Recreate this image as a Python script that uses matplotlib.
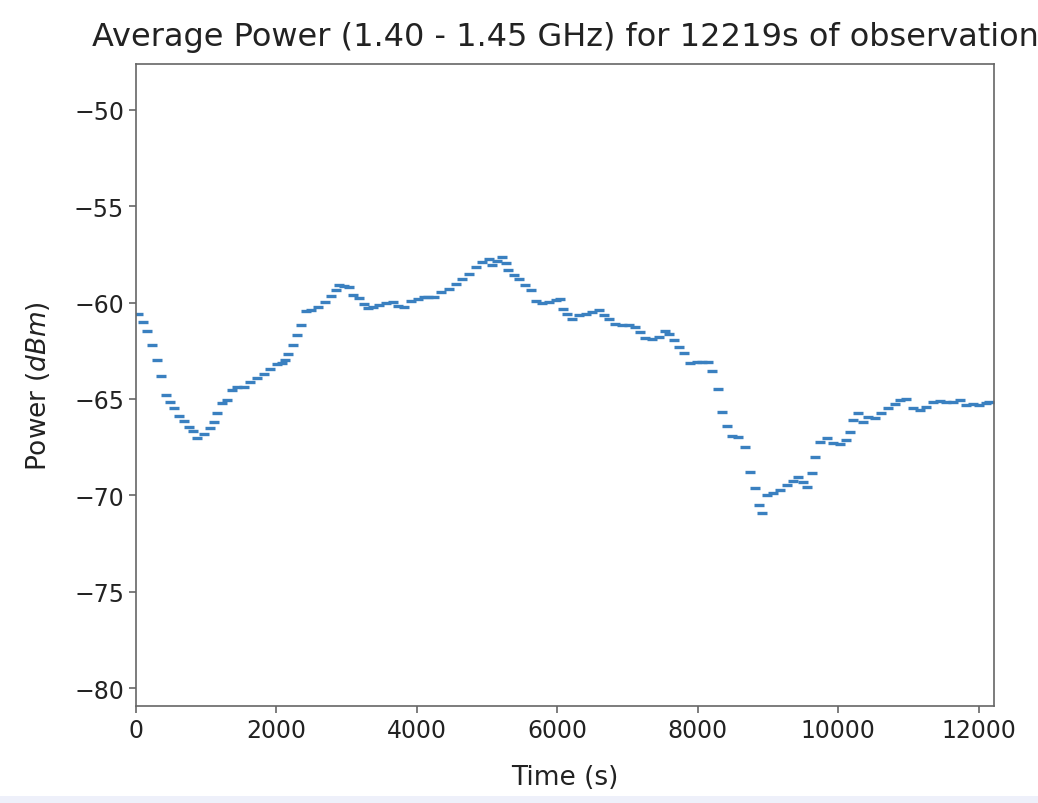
import matplotlib
matplotlib.use("Agg")
import matplotlib.pyplot as plt
from matplotlib.patches import Rectangle

# values (time in s, power in dBm)
time_s = [
    28, 104, 161, 232, 294, 360, 431, 483, 540, 611, 682, 753, 814, 871,
    966, 1051, 1108, 1155, 1226, 1297, 1368, 1439, 1534, 1629, 1723, 1818,
    1913, 2007, 2078, 2116, 2164, 2235, 2292, 2353, 2415, 2496, 2590, 2685,
    2780, 2851, 2898, 2969, 3040, 3097, 3182, 3253, 3300, 3371, 3466, 3561,
    3655, 3726, 3821, 3916, 4010, 4105, 4152, 4247, 4342, 4460, 4555, 4649,
    4744, 4839, 4933, 5028, 5075, 5146, 5217, 5274, 5303, 5384, 5455, 5540,
    5620, 5691, 5786, 5881, 5975, 6033, 6080, 6140, 6212, 6307, 6402, 6496,
    6591, 6662, 6733, 6828, 6923, 7017, 7112, 7183, 7254, 7348, 7443, 7528,
    7585, 7656, 7727, 7798, 7893, 7987, 8058, 8153, 8210, 8286, 8343, 8413,
    8484, 8580, 8674, 8745, 8816, 8873, 8920, 8982, 9077, 9172, 9266, 9361,
    9432, 9503, 9550, 9621, 9669, 9740, 9834, 9929, 10024, 10118, 10166,
    10213, 10284, 10355, 10426, 10521, 10615, 10710, 10805, 10876, 10970,
    11065, 11160, 11255, 11349, 11444, 11538, 11633, 11728, 11822, 11917,
    12012, 12107, 12155,
]
power_dbm = [
    -60.57, -61.0, -61.47, -62.18, -63.0, -63.82, -64.77, -65.15, -65.46,
    -65.89, -66.15, -66.44, -66.67, -67.05, -66.84, -66.53, -66.18, -65.75,
    -65.23, -65.06, -64.54, -64.37, -64.37, -64.11, -63.9, -63.68, -63.42,
    -63.21, -63.11, -62.99, -62.69, -62.21, -61.69, -61.14, -60.45, -60.4,
    -60.23, -59.96, -59.67, -59.36, -59.07, -59.14, -59.19, -59.62, -59.76,
    -60.05, -60.27, -60.22, -60.1, -60.0, -59.96, -60.17, -60.22, -59.93,
    -59.83, -59.71, -59.71, -59.71, -59.45, -59.27, -59.02, -58.79, -58.5,
    -58.15, -57.89, -57.76, -58.07, -57.86, -57.63, -57.93, -58.33, -58.55,
    -58.79, -59.1, -59.36, -59.93, -60.0, -59.96, -59.88, -59.79, -60.31,
    -60.57, -60.83, -60.66, -60.57, -60.48, -60.4, -60.66, -60.83, -61.09,
    -61.18, -61.18, -61.26, -61.52, -61.83, -61.87, -61.78, -61.49, -61.61,
    -61.95, -62.3, -62.64, -63.16, -63.07, -63.07, -63.07, -63.56, -64.46,
    -65.67, -66.39, -66.93, -66.96, -67.48, -68.77, -69.64, -70.5, -70.93,
    -69.98, -69.9, -69.72, -69.47, -69.26, -69.03, -69.29, -69.55, -68.86,
    -68.0, -67.22, -67.05, -67.31, -67.36, -67.13, -66.7, -66.1, -65.75,
    -66.18, -65.92, -66.01, -65.75, -65.46, -65.28, -65.06, -65.01, -65.49,
    -65.58, -65.41, -65.18, -65.11, -65.15, -65.18, -65.06, -65.32, -65.28,
    -65.32, -65.23, -65.18,
]
duration_s = 12219

fig = plt.figure(figsize=(10.38, 8.04), dpi=100)
ax = fig.add_axes([0.131, 0.1206, 0.8266, 0.7984])

ax.plot(time_s, power_dbm, linestyle="none", marker="_", markersize=7,
        markeredgewidth=2.4, color="#3a80c0")

ax.set_xlim(0, duration_s)
ax.set_ylim(min(power_dbm) - 10, max(power_dbm) + 10)
ax.set_xticks([0, 2000, 4000, 6000, 8000, 10000, 12000])
ax.set_yticks([-80, -75, -70, -65, -60, -55, -50])

for sp in ax.spines.values():
    sp.set_color("#666666")
    sp.set_linewidth(1.2)
ax.tick_params(labelsize=17, colors="#666666", labelcolor="#222222",
               length=5, width=1.2)

ax.set_title("Average Power (1.40 - 1.45 GHz) for %ds of observation" % duration_s,
             fontsize=23, color="#222222", pad=14)
ax.set_xlabel("Time (s)", fontsize=19, color="#222222", labelpad=16)
ax.set_ylabel("Power ($dBm$)", fontsize=19, color="#222222", labelpad=16)

# light strip along the bottom of the screenshot
fig.patches.append(Rectangle((0, 0), 1, 0.009, transform=fig.transFigure,
                             facecolor="#eef0fa", edgecolor="none"))

fig.savefig("out.png", dpi=100)
